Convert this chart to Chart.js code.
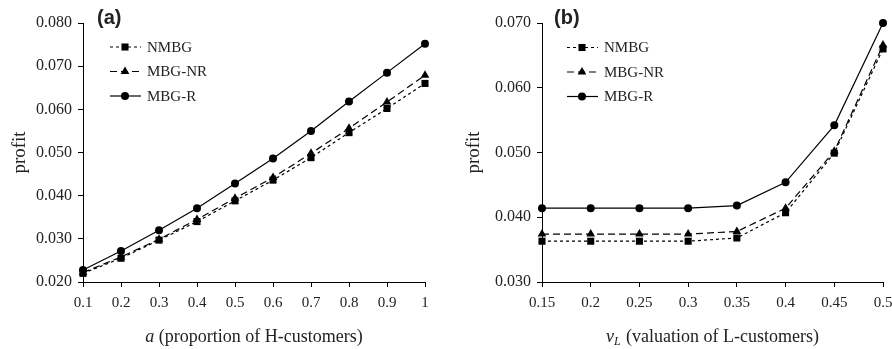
<!DOCTYPE html>
<html>
<head>
<meta charset="utf-8">
<script src="https://cdn.jsdelivr.net/npm/chart.js@4.4.1/dist/chart.umd.min.js"></script>
<style>
  html, body { margin: 0; padding: 0; background: #fff; }
  #wrap { position: relative; width: 892px; height: 349px; }
  .panel { position: absolute; top: 0; width: 446px; height: 349px; }
</style>
</head>
<body>
<div id="wrap">
  <div class="panel" style="left:0"><canvas id="chartA" width="446" height="349"></canvas></div>
  <div class="panel" style="left:446px"><canvas id="chartB" width="446" height="349"></canvas></div>
</div>
<script>
// series names
const seriesNames = ["NMBG", "MBG-NR", "MBG-R"];

// panel (a): profit vs a
const labelsA = ["0.1", "0.2", "0.3", "0.4", "0.5", "0.6", "0.7", "0.8", "0.9", "1"];
const nmbgA = [0.0220, 0.0255, 0.0297, 0.0340, 0.0388, 0.0436, 0.0488, 0.0546, 0.0602, 0.0660];
const mbgNrA = [0.0222, 0.0258, 0.0299, 0.0345, 0.0394, 0.0442, 0.0498, 0.0556, 0.0617, 0.0679];
const mbgRA = [0.0228, 0.0272, 0.0320, 0.0371, 0.0428, 0.0486, 0.0550, 0.0618, 0.0685, 0.0752];

// panel (b): profit vs vL
const labelsB = ["0.15", "0.2", "0.25", "0.3", "0.35", "0.4", "0.45", "0.5"];
const nmbgB = [0.0363, 0.0363, 0.0363, 0.0363, 0.0368, 0.0407, 0.0499, 0.0660];
const mbgNrB = [0.0374, 0.0374, 0.0374, 0.0374, 0.0378, 0.0414, 0.0502, 0.0666];
const mbgRB = [0.0414, 0.0414, 0.0414, 0.0414, 0.0418, 0.0454, 0.0542, 0.0700];

const SERIF = "'Liberation Serif', 'DejaVu Serif', serif";
const TXT = "#222";

const estilos = [
  { dash: [3, 3], ponto: "rect", raio: 5 },
  { dash: [7, 4], ponto: "triangle", raio: 5 },
  { dash: [], ponto: "circle", raio: 4 }
];

function montarDatasets(series) {
  return series.map((valores, i) => ({
    label: seriesNames[i],
    data: valores,
    borderColor: "#000",
    backgroundColor: "#000",
    borderWidth: 1.2,
    borderDash: estilos[i].dash,
    pointStyle: estilos[i].ponto,
    pointRadius: estilos[i].raio,
    pointBorderWidth: 0,
    pointBackgroundColor: "#000",
    tension: 0,
    clip: false
  }));
}

function desenharMarcador(ctx, estilo, x, y, r) {
  ctx.beginPath();
  if (estilo === "rect") {
    const s = r * Math.SQRT1_2;
    ctx.rect(x - s, y - s, 2 * s, 2 * s);
  } else if (estilo === "triangle") {
    for (let k = 0; k < 3; k++) {
      const a = -Math.PI / 2 + k * 2 * Math.PI / 3;
      const px = x + Math.cos(a) * r, py = y + Math.sin(a) * r;
      if (k === 0) ctx.moveTo(px, py); else ctx.lineTo(px, py);
    }
    ctx.closePath();
  } else {
    ctx.arc(x, y, r, 0, Math.PI * 2);
  }
  ctx.fill();
}

const extrasPlugin = {
  id: "extras",
  afterDraw(chart, args, opts) {
    const ctx = chart.ctx;
    const area = chart.chartArea;
    ctx.save();
    ctx.fillStyle = TXT;
    ctx.strokeStyle = "#000";

    // panel label
    ctx.font = "bold 20px 'Liberation Sans', Arial, sans-serif";
    ctx.textBaseline = "middle";
    ctx.textAlign = "left";
    ctx.fillText(opts.painel, opts.painelX, 18);

    // legend
    ctx.font = "15px " + SERIF;
    chart.data.datasets.forEach((ds, i) => {
      const y = opts.legY + i * 24.5;
      const x0 = opts.legX;
      ctx.lineWidth = 1.2;
      ctx.setLineDash(ds.borderDash);
      ctx.beginPath();
      ctx.moveTo(x0, y);
      ctx.lineTo(x0 + 31, y);
      ctx.stroke();
      ctx.setLineDash([]);
      ctx.fillStyle = "#000";
      desenharMarcador(ctx, ds.pointStyle, x0 + 15, y, ds.pointRadius);
      ctx.fillStyle = TXT;
      ctx.fillText(ds.label, x0 + 37, y + 1);
    });

    // x axis title with italic variable
    const cx = (area.left + area.right) / 2;
    const ty = 337;
    ctx.textBaseline = "middle";
    const fItal = "italic 18px " + SERIF;
    const fNorm = "18px " + SERIF;
    const fSub = "italic 12px " + SERIF;
    ctx.font = fItal;
    const wVar = ctx.measureText(opts.varNome).width;
    let wSub = 0;
    if (opts.varSub) { ctx.font = fSub; wSub = ctx.measureText(opts.varSub).width + 1; }
    ctx.font = fNorm;
    const wResto = ctx.measureText(opts.resto).width;
    let x = cx - (wVar + wSub + wResto) / 2;
    ctx.font = fItal;
    ctx.fillText(opts.varNome, x, ty);
    x += wVar;
    if (opts.varSub) {
      ctx.font = fSub;
      ctx.fillText(opts.varSub, x, ty + 5);
      x += wSub;
    }
    ctx.font = fNorm;
    ctx.fillText(opts.resto, x, ty);
    ctx.restore();
  }
};

function criarGrafico(id, labels, series, yMin, yMax, larguraY, dirPad, extras, tituloPad) {
  return new Chart(document.getElementById(id), {
    type: "line",
    data: { labels, datasets: montarDatasets(series) },
    plugins: [extrasPlugin],
    options: {
      responsive: false,
      animation: false,
      layout: { padding: { left: 0, right: dirPad, top: 23, bottom: 0 } },
      plugins: {
        legend: { display: false },
        tooltip: { enabled: false },
        extras
      },
      scales: {
        x: {
          offset: false,
          grid: { drawOnChartArea: false, drawTicks: true, tickLength: 5, color: "#000" },
          border: { display: true, color: "#000", width: 1 },
          ticks: { color: TXT, font: { family: SERIF, size: 15 }, padding: 7, maxRotation: 0, autoSkip: false },
          afterFit(scale) {
            scale.height = 67;
            scale.paddingLeft = 0;
            scale.paddingRight = 0;
          }
        },
        y: {
          min: yMin,
          max: yMax,
          grid: { drawOnChartArea: false, drawTicks: true, tickLength: 5, color: "#000" },
          border: { display: true, color: "#000", width: 1 },
          ticks: {
            stepSize: 0.01,
            color: TXT,
            font: { family: SERIF, size: 16 },
            padding: 6,
            callback: v => v.toFixed(3)
          },
          title: {
            display: true,
            text: "profit",
            color: TXT,
            font: { family: SERIF, size: 19 },
            padding: { top: tituloPad, bottom: 0 }
          },
          afterFit(scale) {
            scale.width = larguraY;
          }
        }
      }
    }
  });
}

criarGrafico("chartA", labelsA, [nmbgA, mbgNrA, mbgRA], 0.02, 0.08, 83, 21,
  { painel: "(a)", painelX: 97, legX: 110, legY: 47, varNome: "a", varSub: "", resto: " (proportion of H-customers)" }, 9);

criarGrafico("chartB", labelsB, [nmbgB, mbgNrB, mbgRB], 0.03, 0.07, 96, 9,
  { painel: "(b)", painelX: 108, legX: 121, legY: 47.5, varNome: "v", varSub: "L", resto: " (valuation of L-customers)" }, 17);
</script>
</body>
</html>
